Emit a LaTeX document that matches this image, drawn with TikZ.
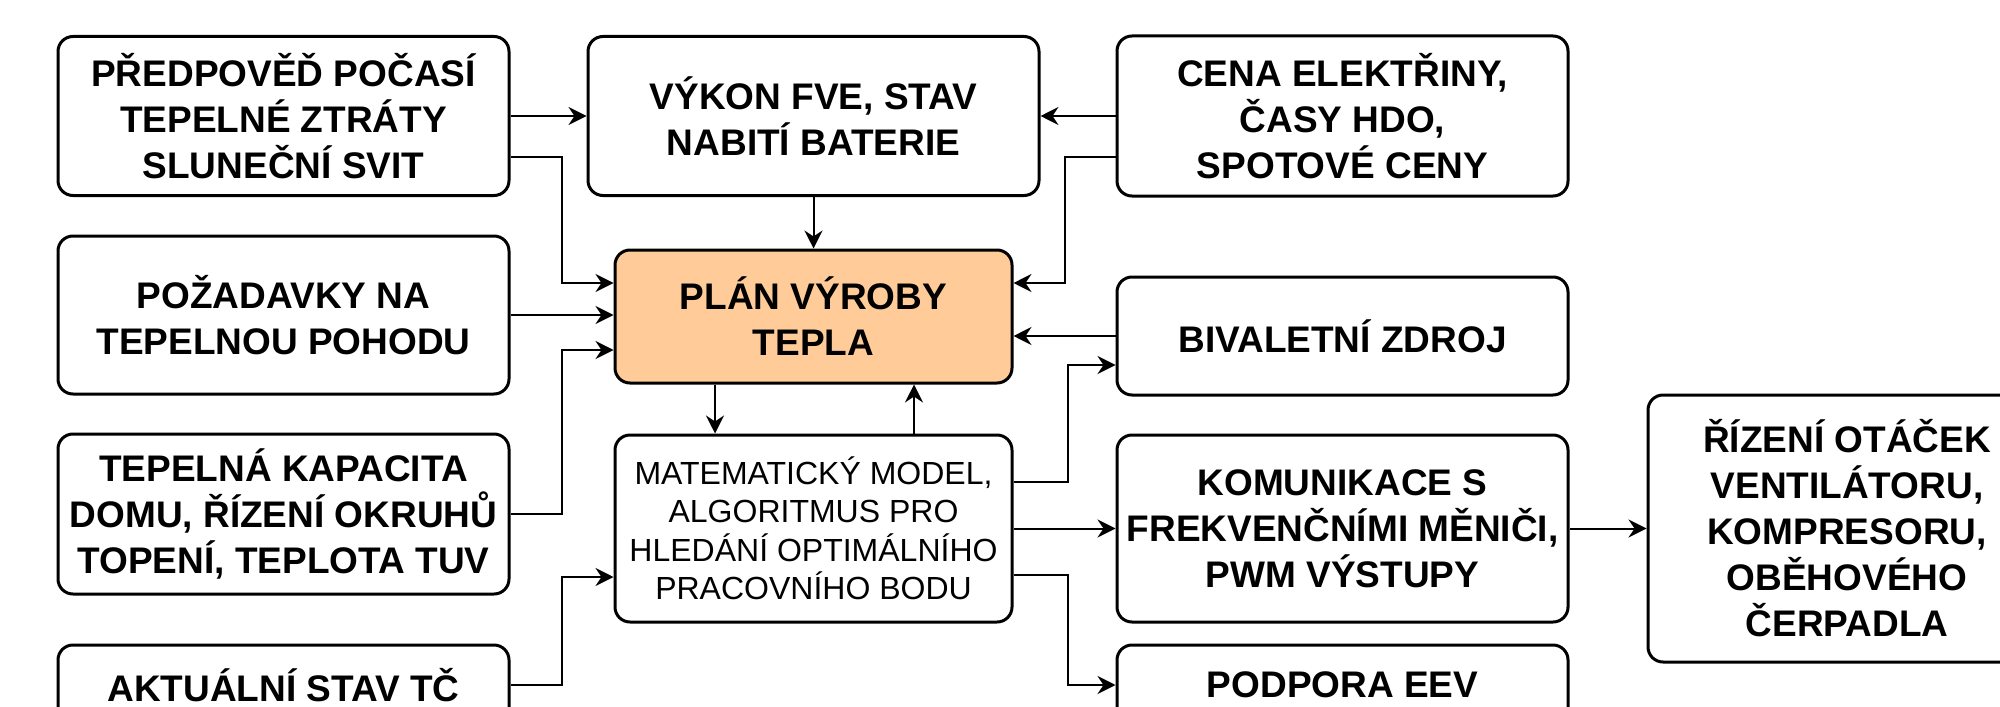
\documentclass[tikz,border=0pt]{standalone}
\usepackage{fontspec}
\setmainfont{Liberation Sans}
\usepackage{xcolor}
\usetikzlibrary{arrows.meta}
\definecolor{planfill}{HTML}{FFCC99}

\begin{document}
\begin{tikzpicture}[x=0.5pt,y=0.5pt,yscale=-1,xscale=1,
  box/.style={draw, line width=1.5pt, rounded corners=7.5pt, align=center, inner sep=0pt,
    font=\fontsize{18.5}{23}\selectfont\bfseries, minimum width=225.5pt},
  arr/.style={line width=1pt, -{Stealth[length=9pt,width=9pt,inset=3pt]}}]
%set diagram area 2000 x 706
\useasboundingbox (0,0) rectangle (2000,706);
\clip (0,0) rectangle (2000,706);

%Rounded Rect - inputs on the left
\node[box, minimum height=79.5pt] (pred) at (283.5,116) {PŘEDPOVĚĎ POČASÍ\\TEPELNÉ ZTRÁTY\\SLUNEČNÍ SVIT};
%Rounded Rect
\node[box, minimum height=79pt] (poz) at (283.5,315) {POŽADAVKY NA\\TEPELNOU POHODU};
%Rounded Rect
\node[box, minimum height=80pt] (kap) at (283.5,514) {TEPELNÁ KAPACITA\\DOMU, ŘÍZENÍ OKRUHŮ\\TOPENÍ, TEPLOTA TUV};
%Rounded Rect
\node[box, minimum height=40pt] (akt) at (283.5,685) {AKTUÁLNÍ STAV TČ};

%Rounded Rect - middle column
\node[box, minimum height=79.5pt] (vykon) at (813.5,116) {VÝKON FVE, STAV\\NABITÍ BATERIE};
%Rounded Rect
\node[box, minimum width=198.5pt, minimum height=66.5pt, fill=planfill] (plan) at (813.5,316.5) {PLÁN VÝROBY\\TEPLA};
%Rounded Rect
\node[box, minimum width=198.5pt, minimum height=93.5pt, font=\fontsize{16}{19.25}\selectfont] (mat) at (813.5,528.5) {MATEMATICKÝ MODEL,\\ALGORITMUS PRO\\HLEDÁNÍ OPTIMÁLNÍHO\\PRACOVNÍHO BODU};

%Rounded Rect - right column
\node[box, minimum height=80pt] (cena) at (1342.5,116) {CENA ELEKTŘINY,\\ČASY HDO,\\SPOTOVÉ CENY};
%Rounded Rect
\node[box, minimum height=59pt] (biv) at (1342.5,336) {BIVALETNÍ ZDROJ};
%Rounded Rect
\node[box, minimum height=93.5pt] (kom) at (1342.5,528.5) {KOMUNIKACE S\\FREKVENČNÍMI MĚNIČI,\\PWM VÝSTUPY};
%Rounded Rect
\node[box, minimum height=40pt] (podp) at (1342.5,685) {PODPORA EEV};
%Rounded Rect
\node[box, minimum width=199pt, minimum height=133.5pt] (riz) at (1847,528.5) {ŘÍZENÍ OTÁČEK\\VENTILÁTORU,\\KOMPRESORU,\\OBĚHOVÉHO\\ČERPADLA};

%Straight Lines
\draw[arr] (pred.east) -- (vykon.west);
\draw[arr] ([yshift=20.5pt]pred.east) -- ++(51,0) |- ([yshift=-16.75pt]plan.west);
\draw[arr] (poz.east) -- (poz.east -| plan.west);
\draw[arr] (kap.east) -- ++(51,0) |- ([yshift=16.75pt]plan.west);
\draw[arr] (akt.east) -- ++(51,0) |- ([yshift=24.25pt]mat.west);
%Straight Lines
\draw[arr] (vykon.south) -- (plan.north);
\draw[arr] ([xshift=-49.25pt]plan.south) -- ([xshift=-49.25pt]mat.north);
\draw[arr] ([xshift=50.25pt]mat.north) -- ([xshift=50.25pt]plan.south);
%Straight Lines
\draw[arr] (cena.west) -- (vykon.east);
\draw[arr] ([yshift=20.5pt]cena.west) -- ++(-51,0) |- ([yshift=-16.75pt]plan.east);
\draw[arr] (biv.west) -- (biv.west -| plan.east);
%Straight Lines
\draw[arr] ([yshift=-23.25pt]mat.east) -- ++(54,0) |- ([yshift=14.5pt]biv.west);
\draw[arr] (mat.east) -- (kom.west);
\draw[arr] ([yshift=23.25pt]mat.east) -- ++(54,0) |- (podp.west);
\draw[arr] (kom.east) -- (riz.west);

\end{tikzpicture}
\end{document}
